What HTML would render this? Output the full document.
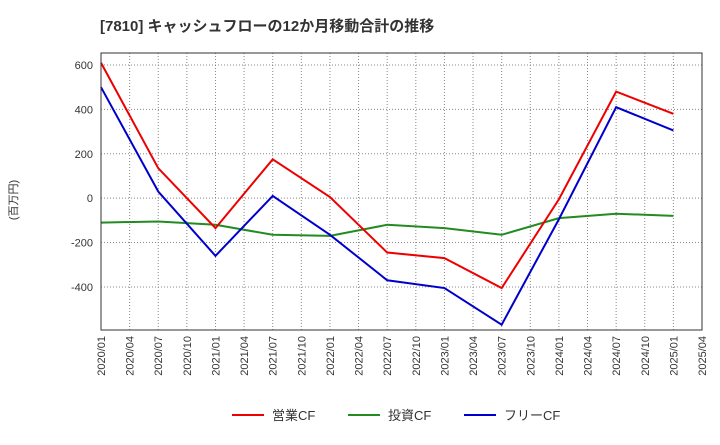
<!DOCTYPE html>
<html><head><meta charset="utf-8"><style>
body{margin:0;background:#fff;font-family:"Liberation Sans","Noto Sans CJK JP",sans-serif;}
</style></head><body>
<svg id="chart" width="720" height="440" xmlns="http://www.w3.org/2000/svg">
<text x="100" y="31" font-size="15" font-weight="bold" fill="#333">[7810]  キャッシュフローの12か月移動合計の推移</text>
<text transform="translate(17,200) rotate(-90)" font-size="11" fill="#333" text-anchor="middle">(百万円)</text>
<g id="grid"></g><g id="axes"></g><g id="series"></g>
<rect x="101" y="53" width="601" height="277" fill="none" stroke="#333"/>
<g>
<line x1="232" y1="415" x2="264" y2="415" stroke="#e00" stroke-width="2"/><text x="272" y="420" font-size="13" fill="#333">営業CF</text>
<line x1="348" y1="415" x2="380" y2="415" stroke="#228b22" stroke-width="2"/><text x="388" y="420" font-size="13" fill="#333">投資CF</text>
<line x1="464" y1="415" x2="496" y2="415" stroke="#00c" stroke-width="2"/><text x="504" y="420" font-size="13" fill="#333">フリーCF</text>
</g>
</svg>
<script>
const xTicks=["2020/01","2020/04","2020/07","2020/10","2021/01","2021/04","2021/07","2021/10","2022/01","2022/04","2022/07","2022/10","2023/01","2023/04","2023/07","2023/10","2024/01","2024/04","2024/07","2024/10","2025/01","2025/04"];
const yTicks=[-400,-200,0,200,400,600];
const dataIdx=[0,2,4,6,8,10,12,14,16,18,20];
const operatingCF=[610,135,-135,175,5,-245,-270,-405,-5,480,380];
const investingCF=[-110,-105,-120,-165,-170,-120,-135,-165,-90,-70,-80];
const freeCF=[500,30,-260,10,-165,-370,-405,-570,-95,410,305];
const NS="http://www.w3.org/2000/svg";
const X0=101,X1=702,Y0=53,Y1=330,YMAX=654,YMIN=-594;
const xs=i=>X0+i*(X1-X0)/(xTicks.length-1);
const ys=v=>Y0+(YMAX-v)/(YMAX-YMIN)*(Y1-Y0);
const grid=document.getElementById('grid'),axes=document.getElementById('axes'),ser=document.getElementById('series');
function mk(tag,attrs,parent){const e=document.createElementNS(NS,tag);for(const k in attrs)e.setAttribute(k,attrs[k]);parent.appendChild(e);return e;}
xTicks.forEach((t,i)=>{
 const g=mk('line',{x1:xs(i),x2:xs(i),y1:Y0,y2:Y1,stroke:'#888','stroke-dasharray':'1,2'},grid);
 
 
 const x=xs(i);
 const tx=mk('text',{transform:`translate(${x+4},${Y1+6}) rotate(-90)`,'font-size':'11',fill:'#333','text-anchor':'end'},axes);
 tx.textContent=t;
 
 
});
yTicks.forEach(v=>{
 const g=mk('line',{x1:X0,x2:X1,y1:ys(v),y2:ys(v),stroke:'#888','stroke-dasharray':'1,2'},grid);
 
 
 const tx=mk('text',{x:X0-8,y:ys(v)+4,'font-size':'11',fill:'#333','text-anchor':'end'},axes);
 tx.textContent=v;
 
 
});
[[investingCF,'#228b22','investing-cf-line'],[operatingCF,'#e00','operating-cf-line'],[freeCF,'#00c','free-cf-line']].forEach(([d,c,n])=>{
 const pts=d.map((v,i)=>xs(dataIdx[i])+','+ys(v)).join(' ');
 const p=mk('polyline',{points:pts,fill:'none',stroke:c,'stroke-width':'2'},ser);
 
 
});
</script>
</body></html>
